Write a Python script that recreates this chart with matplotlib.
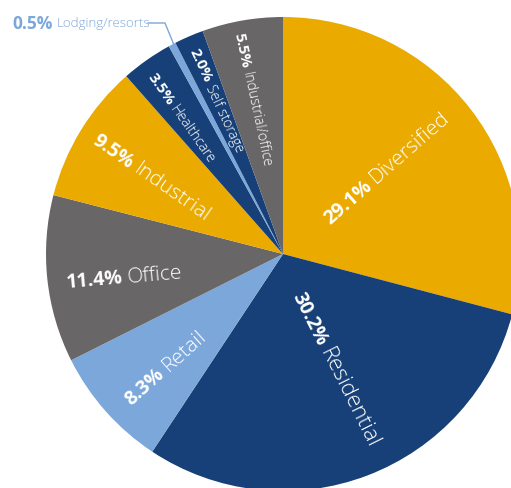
import numpy as np
import matplotlib
matplotlib.use('Agg')
import matplotlib.pyplot as plt

# portfolio split by property sector, clockwise from 12 o'clock
sectors = ['Diversified', 'Residential', 'Retail', 'Office', 'Industrial',
           'Healthcare', 'Lodging/resorts', 'Self storage', 'Industrial/office']
shares = [29.1, 30.2, 8.3, 11.4, 9.5, 3.5, 0.5, 2.0, 5.5]

gold = '#EAAA00'
navy = '#164077'
grey = '#696667'
sky = '#7BA7DA'
colors = [gold, navy, sky, grey, gold, navy, sky, navy, grey]

W, H = 511, 489
fig = plt.figure(figsize=(W / 100, H / 100), dpi=100)
ax = fig.add_axes([0, 0, 1, 1])

ax.pie(shares, colors=colors, startangle=90, counterclock=False,
       radius=237, center=(283, H - 255),
       wedgeprops=dict(linewidth=0))
ax.set_xlim(0, W)
ax.set_ylim(0, H)
ax.set_aspect('equal')
ax.axis('off')

renderer = fig.canvas.get_renderer()
pct_font = 'Open Sans'
name_font = 'Open Sans'


def two_part(x, y, angle, pct, name, size, name_size=None, color='white'):
    """bold percentage followed by the sector name, both along one direction"""
    name_size = name_size or size
    y = H - y
    t = ax.text(x, y, pct, rotation=angle, rotation_mode='anchor',
                ha='left', va='center_baseline', fontsize=size,
                fontweight='bold', family=pct_font, color=color)
    w, _, _ = renderer.get_text_width_height_descent(pct, t.get_fontproperties(), ismath=False)
    gap = w + size * 0.35
    a = np.deg2rad(angle)
    ax.text(x + gap * np.cos(a), y + gap * np.sin(a), name, rotation=angle,
            rotation_mode='anchor', ha='left', va='center_baseline',
            fontsize=name_size, fontweight='light', family=name_font, color=color)


# (x, y from top, rotation, font size, name size)
label_pos = {
    'Diversified': (325, 219, 41, 14, 15),
    'Residential': (299, 293, -63.5, 14, 16),
    'Retail': (126, 400, 42, 14, 15),
    'Office': (66, 281, 5, 14, 15),
    'Industrial': (96, 137, -35, 14, 15),
    'Healthcare': (152, 74, -55, 11, 10),
    'Self storage': (194, 49, -65, 11, 10),
    'Industrial/office': (240, 33, -78, 11, 10),
}

for s, v in zip(sectors, shares):
    if s in label_pos:
        x, y, rot, fs, ns = label_pos[s]
        two_part(x, y, rot, f'{v:.1f}%', s, fs, ns)

# the thin lodging slice gets its label outside with a leader line
lodging = shares[sectors.index('Lodging/resorts')]
two_part(12, 22, 0, f'{lodging:.1f}%', 'Lodging/resorts', 12.5, 9.5, color=sky)
ax.plot([148, 165, 174], [H - 24, H - 24, H - 46], color=sky, lw=1)

fig.savefig('out.png', dpi=100)
